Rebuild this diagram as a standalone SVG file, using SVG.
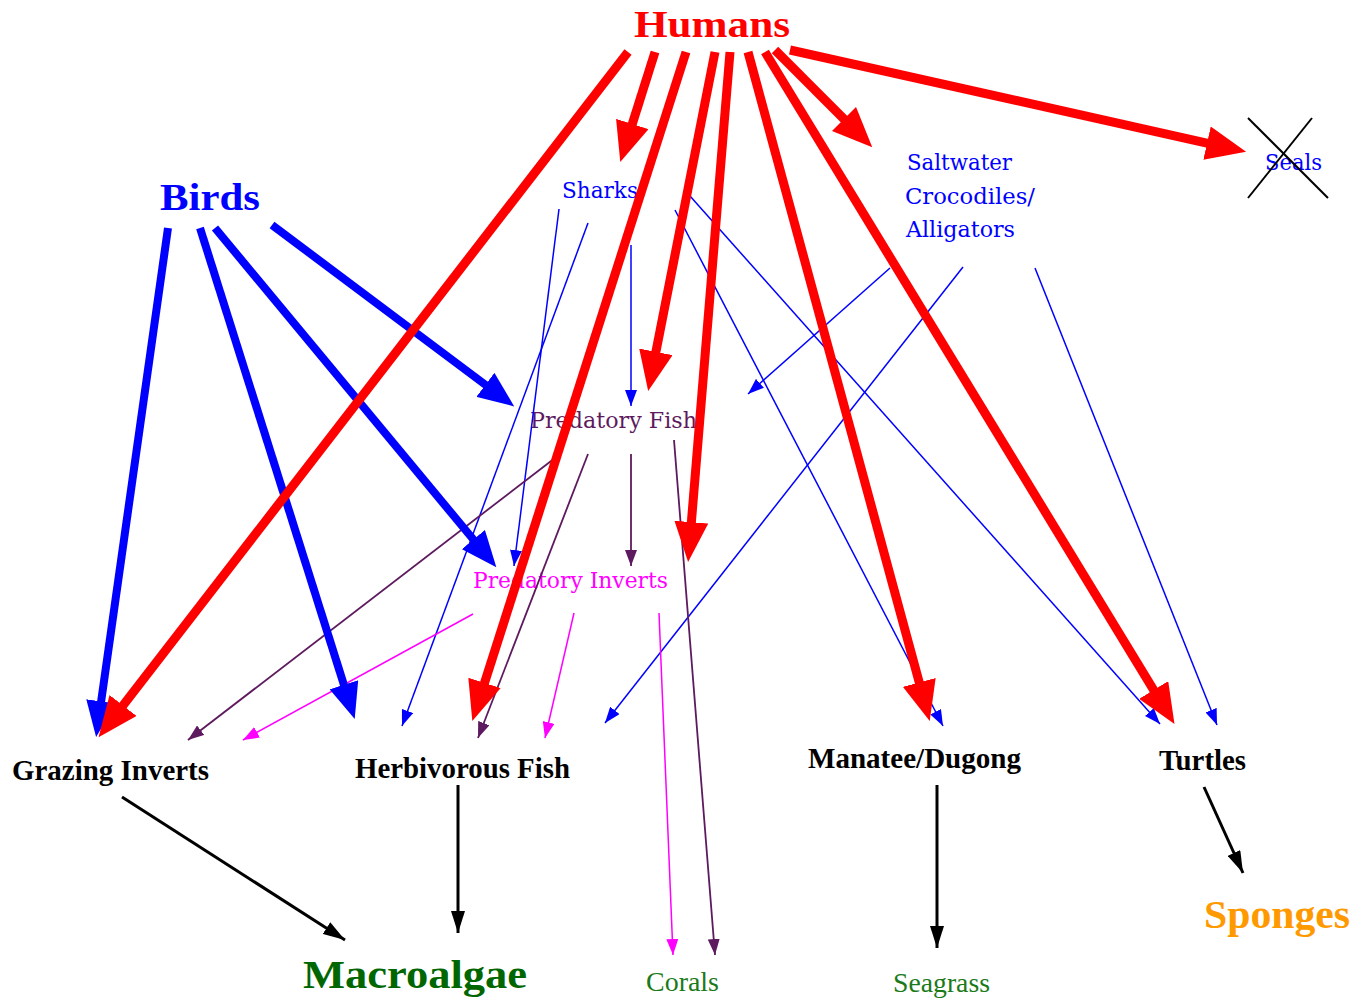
<svg xmlns="http://www.w3.org/2000/svg" width="1358" height="1000" viewBox="0 0 1358 1000">
<style>
.lbl{font-family:"Liberation Serif","Times New Roman",serif;}
.slab{font-family:"DejaVu Serif","Liberation Serif",serif;font-size:22px;}
.b{font-weight:bold;}
.node{font-size:29px;font-weight:bold;fill:#000;}
.red{stroke:#ff0000;stroke-width:9;fill:none;}
.bth{stroke:#0000ff;stroke-width:8;fill:none;}
.bt{stroke:#0000ff;stroke-width:1.5;fill:none;marker-end:url(#mB);}
.pt{stroke:#5e1a5e;stroke-width:1.8;fill:none;marker-end:url(#mP);}
.mt{stroke:#ff00ff;stroke-width:1.5;fill:none;marker-end:url(#mM);}
.blk{stroke:#000;stroke-width:3;fill:none;marker-end:url(#mK);}
</style>
<defs>
<marker id="mR" viewBox="0 0 40 34" refX="1" refY="17" markerWidth="40" markerHeight="34" markerUnits="userSpaceOnUse" orient="auto"><path d="M0,0 L40,17 L0,34 z" fill="#ff0000"/></marker>
<marker id="mBT" viewBox="0 0 36 30" refX="1" refY="15" markerWidth="36" markerHeight="30" markerUnits="userSpaceOnUse" orient="auto"><path d="M0,0 L36,15 L0,30 z" fill="#0000ff"/></marker>
<marker id="mB" viewBox="0 0 16 12" refX="16" refY="6" markerWidth="16" markerHeight="12" markerUnits="userSpaceOnUse" orient="auto"><path d="M0,0 L16,6 L0,12 z" fill="#0000ff"/></marker>
<marker id="mP" viewBox="0 0 16 12" refX="16" refY="6" markerWidth="16" markerHeight="12" markerUnits="userSpaceOnUse" orient="auto"><path d="M0,0 L16,6 L0,12 z" fill="#5e1a5e"/></marker>
<marker id="mM" viewBox="0 0 16 12" refX="16" refY="6" markerWidth="16" markerHeight="12" markerUnits="userSpaceOnUse" orient="auto"><path d="M0,0 L16,6 L0,12 z" fill="#ff00ff"/></marker>
<marker id="mK" viewBox="0 0 22 14" refX="22" refY="7" markerWidth="22" markerHeight="14" markerUnits="userSpaceOnUse" orient="auto"><path d="M0,0 L22,7 L0,14 z" fill="#000"/></marker>
</defs>
<rect width="1358" height="1000" fill="#fff"/>

<g id="humans"><text class="lbl b" x="634" y="37" font-size="38" fill="#ff0000" textLength="156" lengthAdjust="spacingAndGlyphs">Humans</text></g>
<g id="birds"><text class="lbl b" x="160" y="210" font-size="38" fill="#0000ff" textLength="100" lengthAdjust="spacingAndGlyphs">Birds</text></g>
<g id="sharks"><text class="slab" x="562" y="198" fill="#0000ff" textLength="76" lengthAdjust="spacingAndGlyphs">Sharks</text></g>
<g id="crocodiles">
<text class="slab" x="907" y="170" fill="#0000ff" textLength="105" lengthAdjust="spacingAndGlyphs">Saltwater</text>
<text class="slab" x="905" y="204" fill="#0000ff" textLength="130" lengthAdjust="spacingAndGlyphs">Crocodiles/</text>
<text class="slab" x="906" y="237" fill="#0000ff" textLength="109" lengthAdjust="spacingAndGlyphs">Alligators</text>
</g>
<g id="seals">
<text class="slab" x="1265" y="170" fill="#0000ff" textLength="57" lengthAdjust="spacingAndGlyphs">Seals</text>
<line x1="1248" y1="118" x2="1328" y2="198" stroke="#000" stroke-width="2"/>
<line x1="1248" y1="198" x2="1312" y2="118" stroke="#000" stroke-width="2"/>
</g>
<g id="predatory-fish"><text class="slab" x="530" y="428" fill="#5e1a5e" textLength="167" lengthAdjust="spacingAndGlyphs">Predatory Fish</text></g>
<g id="predatory-inverts"><text class="slab" x="473" y="588" fill="#ff00ff" textLength="195" lengthAdjust="spacingAndGlyphs">Predatory Inverts</text></g>
<g id="grazing-inverts"><text class="lbl node" x="12" y="780" textLength="197" lengthAdjust="spacingAndGlyphs">Grazing Inverts</text></g>
<g id="herbivorous-fish"><text class="lbl node" x="355" y="778" textLength="215" lengthAdjust="spacingAndGlyphs">Herbivorous Fish</text></g>
<g id="manatee"><text class="lbl node" x="808" y="768" textLength="213" lengthAdjust="spacingAndGlyphs">Manatee/Dugong</text></g>
<g id="turtles"><text class="lbl node" x="1159" y="770" textLength="87" lengthAdjust="spacingAndGlyphs">Turtles</text></g>
<g id="macroalgae"><text class="lbl b" x="303" y="988" font-size="40" fill="#006600" textLength="224" lengthAdjust="spacingAndGlyphs">Macroalgae</text></g>
<g id="corals"><text class="lbl" x="646" y="991" font-size="27" fill="#1a7a1a" textLength="73" lengthAdjust="spacingAndGlyphs">Corals</text></g>
<g id="seagrass"><text class="lbl" x="893" y="992" font-size="27" fill="#1a7a1a" textLength="97" lengthAdjust="spacingAndGlyphs">Seagrass</text></g>
<g id="sponges"><text class="lbl b" x="1204" y="928" font-size="40" fill="#ff9900" textLength="146" lengthAdjust="spacingAndGlyphs">Sponges</text></g>

<g id="connectors">
<line class="bt" x1="559" y1="209" x2="514" y2="566"/>
<line class="bt" x1="588" y1="223" x2="402" y2="726"/>
<line class="bt" x1="631" y1="245" x2="631" y2="406"/>
<line class="bt" x1="675" y1="210" x2="943" y2="726"/>
<line class="bt" x1="690" y1="196" x2="1160" y2="724"/>
<line class="bt" x1="890" y1="268" x2="748" y2="394"/>
<line class="bt" x1="963" y1="267" x2="605" y2="723"/>
<line class="bt" x1="1035" y1="268" x2="1217" y2="725"/>
<line class="pt" x1="555" y1="458" x2="188" y2="740"/>
<line class="pt" x1="588" y1="454" x2="478" y2="738"/>
<line class="pt" x1="631" y1="454" x2="631" y2="566"/>
<line class="pt" x1="674" y1="440" x2="715" y2="955"/>
<line class="mt" x1="473" y1="614" x2="243" y2="740"/>
<line class="mt" x1="574" y1="613" x2="545" y2="738"/>
<line class="mt" x1="659" y1="613" x2="673" y2="955"/>
<line class="bth" x1="168" y1="228" x2="101" y2="702.4" marker-end="url(#mBT)"/>
<line class="bth" x1="200" y1="228" x2="344.2" y2="685.7" marker-end="url(#mBT)"/>
<line class="bth" x1="215" y1="228" x2="474" y2="540.3" marker-end="url(#mBT)"/>
<line class="bth" x1="272" y1="225" x2="486.2" y2="385.4" marker-end="url(#mBT)"/>
<line class="red" x1="628" y1="52" x2="122.4" y2="706.3" marker-end="url(#mR)"/>
<line class="red" x1="655" y1="52" x2="632" y2="124.9" marker-end="url(#mR)"/>
<line class="red" x1="686" y1="52" x2="484.2" y2="683.9" marker-end="url(#mR)"/>
<line class="red" x1="715" y1="52" x2="655.7" y2="352.8" marker-end="url(#mR)"/>
<line class="red" x1="730" y1="52" x2="691.3" y2="523.1" marker-end="url(#mR)"/>
<line class="red" x1="748" y1="52" x2="919.5" y2="683.4" marker-end="url(#mR)"/>
<line class="red" x1="765" y1="52" x2="1154.2" y2="690.8" marker-end="url(#mR)"/>
<line class="red" x1="775" y1="50" x2="844.7" y2="119.7" marker-end="url(#mR)"/>
<line class="red" x1="790" y1="50" x2="1208" y2="143.3" marker-end="url(#mR)"/>
<line class="blk" x1="122" y1="797" x2="345" y2="940"/>
<line class="blk" x1="458" y1="785" x2="458" y2="933"/>
<line class="blk" x1="937" y1="785" x2="937" y2="948"/>
<line class="blk" x1="1204" y1="787" x2="1243" y2="873"/>
</g>
</svg>
